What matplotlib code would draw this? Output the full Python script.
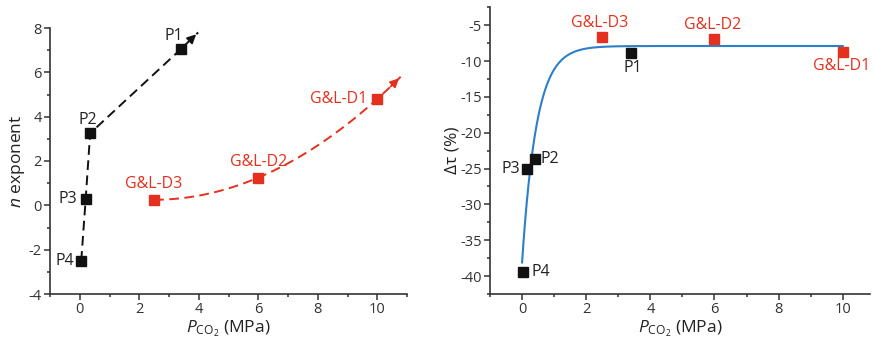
import numpy as np
import matplotlib

matplotlib.use("Agg")
import matplotlib.pyplot as plt
import matplotlib.ticker as ticker

plt.rcParams["font.family"] = ["Open Sans", "DejaVu Sans"]
plt.rcParams["mathtext.fontset"] = "custom"
plt.rcParams["mathtext.rm"] = "Open Sans"
plt.rcParams["mathtext.it"] = "Open Sans:italic"
plt.rcParams["axes.unicode_minus"] = False

# ---------------- data ----------------
# sample points (P = this work, G&L = literature)
p_names = ["P1", "P2", "P3", "P4"]
p_pco2 = [3.4, 0.35, 0.2, 0.05]
p_n = [7.05, 3.25, 0.3, -2.5]
p_pco2_r = [3.4, 0.4, 0.15, 0.02]
p_dtau = [-8.9, -23.6, -25.1, -39.5]

gl_names = ["G&L-D3", "G&L-D2", "G&L-D1"]
gl_pco2 = [2.5, 6.0, 10.0]
gl_n = [0.25, 1.25, 4.8]
gl_dtau = [-6.6, -6.9, -8.7]

# trend arrows (left panel), end points
black_tip = (3.98, 7.8)
red_tip_x = 10.8

# exponential fit in right panel: dtau = plateau - amp * exp(-P/tau)
FIT_PLATEAU = -7.9
FIT_AMP = 30.2
FIT_TAU = 0.45

RED = "#E4301F"
BLK = "#111111"
BLUE = "#2C7FC9"
AX_C = "#333333"


def style_axes(ax):
    for s in ("top", "right"):
        ax.spines[s].set_visible(False)
    for s in ("left", "bottom"):
        ax.spines[s].set_color(AX_C)
        ax.spines[s].set_linewidth(1.2)
    ax.tick_params(which="major", direction="out", length=4, width=1.1,
                   color=AX_C, labelsize=10.5, labelcolor="#333333", pad=2)
    ax.tick_params(which="minor", direction="out", length=2.5, width=1.1, color=AX_C)
    ax.set_xlabel(r"$\it{P}_{\mathrm{CO_2}}$ (MPa)", fontsize=12.5, color="#222222", labelpad=1)


fig = plt.figure(figsize=(8.73, 3.47), dpi=100)
ax1 = fig.add_axes([50 / 873, 1 - 294 / 347, 357 / 873, 266 / 347])
ax2 = fig.add_axes([490 / 873, 1 - 294 / 347, 380 / 873, 286.7 / 347])

# ---------- left: n exponent ----------
style_axes(ax1)
ax1.set_xlim(-1, 11)
ax1.set_ylim(-4, 8)
ax1.xaxis.set_major_locator(ticker.MultipleLocator(2))
ax1.xaxis.set_minor_locator(ticker.MultipleLocator(1))
ax1.yaxis.set_major_locator(ticker.MultipleLocator(2))
ax1.yaxis.set_minor_locator(ticker.MultipleLocator(1))
ax1.set_ylabel(r"$\it{n}$ exponent", fontsize=12.5, color="#222222", labelpad=1)

dash = (0, (5, 2.8))
bx = p_pco2[::-1] + [black_tip[0]]
by = p_n[::-1] + [black_tip[1]]
ax1.plot(bx, by, color=BLK, lw=1.4, ls=dash, zorder=2)
bx0 = p_pco2[0] + 0.45 * (black_tip[0] - p_pco2[0])
by0 = p_n[0] + 0.45 * (black_tip[1] - p_n[0])
ax1.annotate("", xy=black_tip, xytext=(bx0, by0),
             arrowprops=dict(arrowstyle="-|>", color=BLK, lw=1.3, mutation_scale=13))

coef = np.polyfit(gl_pco2, gl_n, 2)
rx = np.linspace(gl_pco2[0], red_tip_x, 100)
ry = np.polyval(coef, rx)
ax1.plot(rx, ry, color=RED, lw=1.4, ls=dash, zorder=2)
ax1.annotate("", xy=(rx[-1], ry[-1]), xytext=(rx[-6], ry[-6]),
             arrowprops=dict(arrowstyle="-|>", color=RED, lw=1.3, mutation_scale=13))

ax1.plot(p_pco2, p_n, "s", color=BLK, ms=6.5, zorder=3)
ax1.plot(gl_pco2, gl_n, "s", color=RED, ms=6.5, zorder=3)

lab_kw = dict(textcoords="offset points", fontsize=11.5, va="center")
left_p_off = {"P1": (-5, 9.5, "center"), "P2": (-2, 9.5, "center"),
              "P3": (-6, 0, "right"), "P4": (-5, 0, "right")}
for nm, x, y in zip(p_names, p_pco2, p_n):
    dx, dy, ha = left_p_off[nm]
    ax1.annotate(nm, (x, y), xytext=(dx, dy), ha=ha, color="#222222", **lab_kw)
left_g_off = {"G&L-D3": (0, 11.5, "center"), "G&L-D2": (0, 11, "center"),
              "G&L-D1": (-7.5, 0, "right")}
for nm, x, y in zip(gl_names, gl_pco2, gl_n):
    dx, dy, ha = left_g_off[nm]
    ax1.annotate(nm, (x, y), xytext=(dx, dy), ha=ha, color=RED, **lab_kw)

# ---------- right: delta tau ----------
style_axes(ax2)
ax2.set_xlim(-1, 10.85)
ax2.set_ylim(-42.5, -2.5)
ax2.xaxis.set_major_locator(ticker.MultipleLocator(2))
ax2.xaxis.set_minor_locator(ticker.MultipleLocator(1))
ax2.yaxis.set_major_locator(ticker.MultipleLocator(5))
ax2.yaxis.set_minor_locator(ticker.MultipleLocator(2.5))
ax2.set_ylabel("Δτ (%)", fontsize=12.5, color="#222222", labelpad=0)

fx = np.linspace(0.0, 10.0, 400)
ax2.plot(fx, FIT_PLATEAU - FIT_AMP * np.exp(-fx / FIT_TAU), color=BLUE, lw=1.5, zorder=2)

ax2.plot(p_pco2_r, p_dtau, "s", color=BLK, ms=6.5, zorder=3)
ax2.plot(gl_pco2, gl_dtau, "s", color=RED, ms=6.5, zorder=3)

right_p_off = {"P1": (1, -11, "center"), "P2": (4, 0, "left"),
               "P3": (-5, 0, "right"), "P4": (6, 0, "left")}
for nm, x, y in zip(p_names, p_pco2_r, p_dtau):
    dx, dy, ha = right_p_off[nm]
    ax2.annotate(nm, (x, y), xytext=(dx, dy), ha=ha, color="#222222", **lab_kw)
right_g_off = {"G&L-D3": (-2, 9.5, "center"), "G&L-D2": (-1, 10, "center"),
               "G&L-D1": (-1, -10.5, "center")}
for nm, x, y in zip(gl_names, gl_pco2, gl_dtau):
    dx, dy, ha = right_g_off[nm]
    ax2.annotate(nm, (x, y), xytext=(dx, dy), ha=ha, color=RED, **lab_kw)

fig.savefig("out.png", dpi=100, facecolor="white")
